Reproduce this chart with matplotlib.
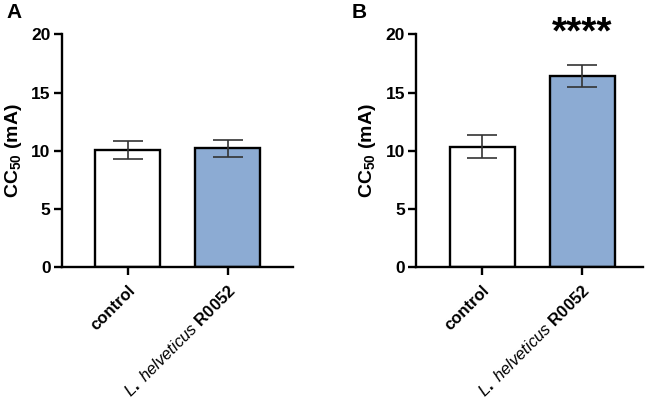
import matplotlib
matplotlib.use("Agg")
import matplotlib.pyplot as plt

plt.rcParams["font.family"] = ["Liberation Sans", "DejaVu Sans"]
plt.rcParams["mathtext.fontset"] = "custom"
plt.rcParams["mathtext.rm"] = "Liberation Sans:bold"
plt.rcParams["mathtext.it"] = "Liberation Sans:italic"
plt.rcParams["mathtext.bf"] = "Liberation Sans:bold"

# data
groups = ["control", "L. helveticus R0052"]
means_a = [10.05, 10.2]
errs_a = [0.8, 0.7]
means_b = [10.35, 16.45]
errs_b = [1.0, 0.95]
yticks = [0, 5, 10, 15, 20]
tick_labels = ["control", r"$\mathit{L.\ helveticus}$ $\mathbf{R0052}$"]

BLUE = "#8cabd3"
colors = ["white", BLUE]

fig = plt.figure(figsize=(6.49, 4.03), dpi=100)
ax_a = fig.add_axes([0.0951, 0.3375, 0.3564, 0.5769])
ax_b = fig.add_axes([0.641, 0.3375, 0.3498, 0.5769])


def draw_panel(ax, means, errs, letter, right_lim, letter_x):
    x = list(range(len(groups)))
    ax.errorbar(x, means, yerr=errs, fmt="none", ecolor="#333333",
                elinewidth=1.2, capsize=10.5, capthick=1.2, zorder=3)
    ax.bar(x, means, width=0.65, color=colors, edgecolor="black",
           linewidth=1.7, zorder=2)
    ax.set_xlim(-0.66, right_lim)
    ax.set_ylim(0, 20)
    ax.set_yticks(yticks)
    ax.set_yticklabels([str(t) for t in yticks], fontsize=12.5, fontweight="bold")
    ax.set_xticks(x)
    ax.set_xticklabels(tick_labels, fontsize=12, fontweight="bold",
                       rotation=45, ha="right", rotation_mode="anchor")
    for sp in ["top", "right"]:
        ax.spines[sp].set_visible(False)
    for sp in ["left", "bottom"]:
        ax.spines[sp].set_linewidth(1.7)
    ax.tick_params(axis="both", width=1.7, length=6, pad=2)
    ax.tick_params(axis="x", pad=5)
    ax.set_ylabel(r"CC$_{\mathbf{50}}$ (mA)", fontsize=14, fontweight="bold",
                  labelpad=5)
    ax.text(letter_x, 1.135, letter, transform=ax.transAxes, fontsize=15,
            fontweight="bold", ha="left", va="top")


draw_panel(ax_a, means_a, errs_a, "A", 1.65, -0.24)
draw_panel(ax_b, means_b, errs_b, "B", 1.61, -0.285)

ax_b.text(1, 19.2, "****", ha="center", va="baseline", fontsize=28,
          fontweight="bold", clip_on=False)

fig.savefig("out.png", dpi=100)
